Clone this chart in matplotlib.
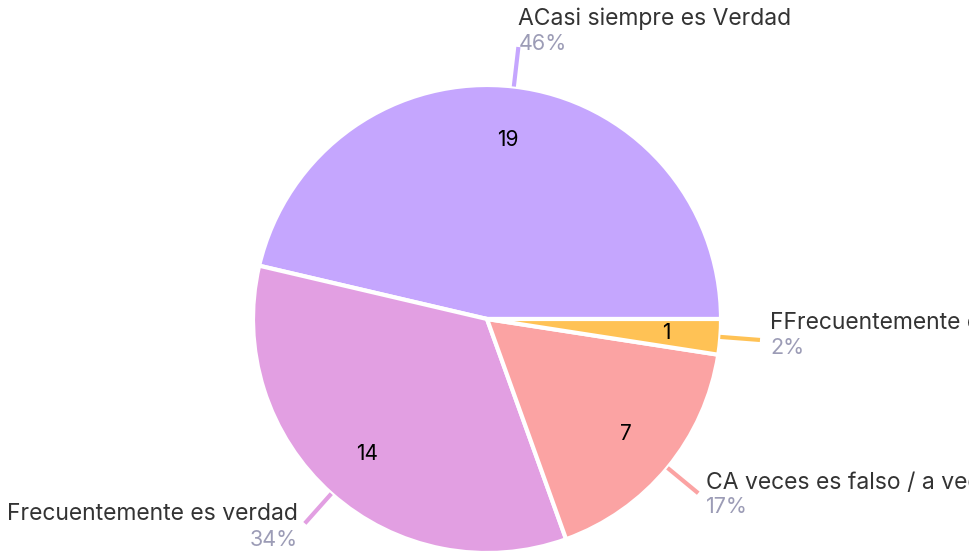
import numpy as np
import matplotlib
matplotlib.use("Agg")
import matplotlib.pyplot as plt

plt.rcParams['font.family'] = ['Inter', 'DejaVu Sans']

# data
categories = ["ACasi siempre es Verdad", "Frecuentemente es verdad",
              "CA veces es falso / a veces es verdad", "FFrecuentemente es falso"]
counts = [19, 14, 7, 1]
colors = ["#C5A6FE", "#E29FE2", "#FBA3A3", "#FFC255"]

W, H = 970, 551
fig = plt.figure(figsize=(W / 100, H / 100), dpi=100)
ax = fig.add_axes([0, 0, 1, 1])

cx, cy, R = 487, H - 319, 234
total = sum(counts)

wedges, _, autotexts = ax.pie(
    counts, colors=colors, startangle=0, counterclock=True,
    center=(cx, cy), radius=R, frame=True,
    autopct=lambda p: "%d" % round(p * total / 100.0),
    pctdistance=0.77,
    wedgeprops=dict(edgecolor="white", linewidth=3),
    textprops=dict(fontsize=15, color="black"),
)
ax.set_xlim(0, W)
ax.set_ylim(0, H)
ax.axis("off")

# label offsets (pixels) relative to the end of the leader line
label_style = {
    0: dict(ha="left", name_off=(0, 28), pct_off=(0, 3)),
    1: dict(ha="right", name_off=(-7, 9), pct_off=(-7, -17)),
    2: dict(ha="left", name_off=(8, 10), pct_off=(8, -14)),
    3: dict(ha="left", name_off=(10, 17), pct_off=(10, -8)),
}

for i, w in enumerate(wedges):
    mid = np.deg2rad((w.theta1 + w.theta2) / 2)
    x0, y0 = cx + R * 1.0 * np.cos(mid), cy + R * 1.0 * np.sin(mid)
    x1, y1 = cx + R * 1.17 * np.cos(mid), cy + R * 1.17 * np.sin(mid)
    ax.plot([x0, x1], [y0, y1], color=colors[i], lw=3, solid_capstyle="butt", clip_on=False)
    st = label_style[i]
    pct = "%d%%" % round(100.0 * counts[i] / total)
    ax.annotate(categories[i], (x1, y1), xytext=st["name_off"], textcoords="offset pixels",
                ha=st["ha"], va="center", fontsize=16.5, color="#333333", annotation_clip=False)
    ax.annotate(pct, (x1, y1), xytext=st["pct_off"], textcoords="offset pixels",
                ha=st["ha"], va="center", fontsize=15.5, color="#9C9CB6", annotation_clip=False)

fig.savefig("out.png", dpi=100, facecolor="white")
